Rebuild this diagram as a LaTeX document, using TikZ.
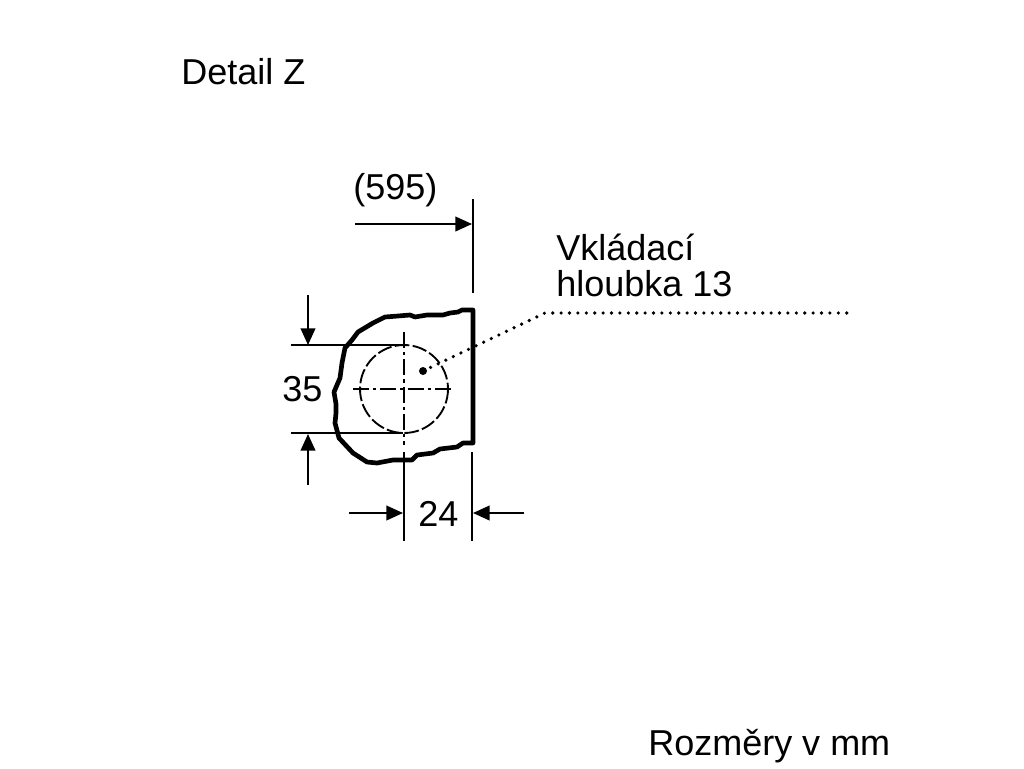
\documentclass[tikz,border=0pt]{standalone}
\usepackage{fontspec}
\setmainfont{Liberation Sans}
\usetikzlibrary{arrows.meta}
\tikzset{
  lbl/.style={anchor=base west,inner sep=0pt,font=\fontsize{27}{27}\selectfont},
  dimline/.style={line width=1.5pt,-{Triangle[length=12.5pt,width=11pt]}},
  extline/.style={line width=1.5pt},
  centerline/.style={line width=1.4pt,dash pattern=on 12pt off 3pt on 2.5pt off 3pt},
  outline/.style={line width=3.5pt,line join=round,line cap=round},
  leader/.style={line width=2.7pt,line cap=round,dash pattern=on 0pt off 6.3pt}
}
\begin{document}
\begin{tikzpicture}[x=0.75pt,y=-0.75pt]
\useasboundingbox (0,0) rectangle (1024,768);
\node[lbl](title) at (181,84) {Detail Z};
\node[lbl](depth) at (353,199) {(595)};
\node[lbl,align=left,anchor=north west](insert) at (556,234) {Vkládací\\hloubka 13};
\node[lbl](dia) at (282,401) {35};
\node[lbl](wall) at (418,526) {24};
\node[lbl](units) at (648,755) {Rozměry v mm};
% broken edge of the panel
\draw[outline] (473,310) -- (462,310) -- (458,312) -- (450,313) -- (443,315) -- (427,315)
  -- (415,317) -- (410,315) -- (398,316) -- (385,317) -- (373,323) -- (358,332)
  -- (352,340) -- (345,348) -- (342,363) -- (340,378) -- (334,392) -- (336,404)
  -- (336,413) -- (335,423) -- (339,438) -- (353,453) -- (367,462) -- (377,463)
  -- (393,460) -- (412,460) -- (417,455) -- (433,453) -- (440,449) -- (457,447)
  -- (463,443) -- (473,443) -- cycle;
% hole
\coordinate(hole) at (404,389);
\draw[line width=1.4pt,dash pattern=on 11pt off 2.5pt] (hole) circle[radius=44];
\coordinate(holeL) at (353,389);
\coordinate(holeR) at (453,389);
\coordinate(holeT) at (404,332);
\coordinate(holeB) at (404,445);
\draw[centerline] (holeL) -- (holeR);
\draw[centerline] (holeT) -- (holeB);
% extension lines
\coordinate(extA) at (473,199);
\coordinate(extB) at (473,293);
\coordinate(extC) at (291,345);
\coordinate(extD) at (403,345);
\coordinate(extE) at (291,433);
\coordinate(extF) at (403,433);
\coordinate(extG) at (404,452);
\coordinate(extH) at (404,541);
\coordinate(extI) at (472,452);
\coordinate(extJ) at (472,541);
\path[extline]
(extA) edge (extB)
(extC) edge (extD)
(extE) edge (extF)
(extG) edge (extH)
(extI) edge (extJ);
% dimension arrows
\coordinate(depthS) at (355,224);
\coordinate(depthE) at (472,224);
\coordinate(diaS) at (308,295);
\coordinate(diaE) at (308,345);
\coordinate(diaS') at (308,485);
\coordinate(diaE') at (308,434);
\coordinate(wallS) at (349,513);
\coordinate(wallE) at (403,513);
\coordinate(wallS') at (524,513);
\coordinate(wallE') at (473,513);
\path[dimline]
(depthS) edge (depthE)
(diaS) edge (diaE)
(diaS') edge (diaE')
(wallS) edge (wallE)
(wallS') edge (wallE');
% leader
\coordinate(leadA) at (423,371);
\coordinate(leadB) at (545,313);
\coordinate(leadC) at (848,313);
\fill (leadA) circle[radius=4];
\draw[leader] (leadA) -- (leadB) -- (leadC);
\end{tikzpicture}
\end{document}
